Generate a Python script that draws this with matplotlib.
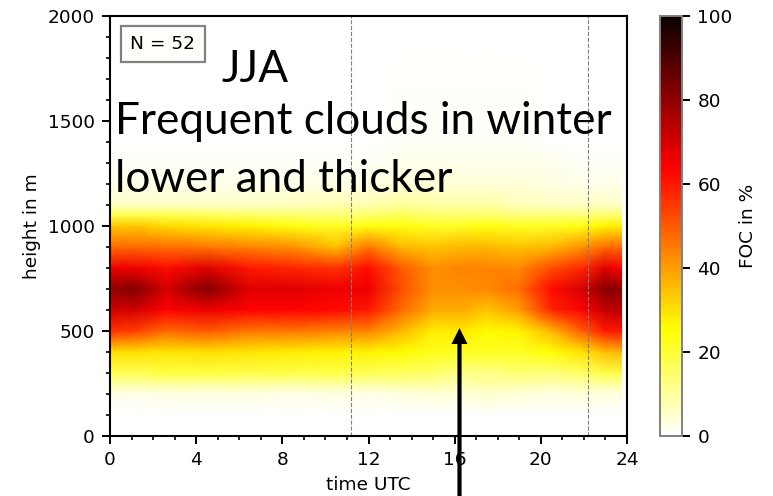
import matplotlib
matplotlib.use('Agg')
import matplotlib.pyplot as plt
from matplotlib.patches import FancyArrowPatch
import numpy as np

hours = [0, 0.25, 1.2, 2.6, 4.5, 6.5, 8.5, 10.5, 12, 13.5, 15, 16.25, 17.5, 19, 20.5, 22, 23, 23.75]
heights = [0, 100, 200, 250, 300, 400, 500, 600, 700, 800, 900, 1000, 1050, 1100, 1200, 1300, 1400, 2000]

# FOC in %, one row per height
foc_0 = [0, 0, 0, 0, 0, 0, 0, 0, 0, 0, 0, 0, 0, 0, 0, 0, 0, 0]
foc_100 = [0, 0, 0, 0, 0, 0, 0, 0, 0, 0, 0, 0, 0, 0, 0, 0, 0, 0]
foc_200 = [2, 2, 2, 3, 3, 3, 2, 3, 2, 3, 4, 4, 5, 4, 3, 4, 3, 3]
foc_250 = [9, 9, 9, 10, 10, 10, 9, 10, 9, 10, 10, 8, 9, 9, 8, 9, 10, 10]
foc_300 = [17, 17, 17, 19, 19, 18, 18, 18, 17, 16, 15, 12, 12, 14, 13, 16, 18, 18]
foc_400 = [30, 30, 30, 29, 30, 29, 28, 27, 27, 26, 23, 22, 22, 22, 25, 30, 35, 36]
foc_500 = [56, 56, 54, 48, 50, 46, 46, 44, 44, 36, 28, 29, 26, 27, 36, 50, 60, 60]
foc_600 = [70, 70, 70, 63, 66, 63, 63, 62, 60, 48, 38, 38, 34, 40, 58, 64, 72, 74]
foc_700 = [80, 80, 82, 70, 82, 68, 68, 66, 66, 52, 42, 42, 43, 47, 62, 70, 82, 80]
foc_800 = [66, 66, 66, 62, 68, 60, 58, 56, 62, 50, 42, 44, 44, 43, 52, 58, 68, 64]
foc_900 = [48, 48, 48, 47, 46, 44, 42, 35, 46, 36, 34, 36, 36, 34, 36, 42, 48, 48]
foc_1000 = [34, 34, 34, 31, 29, 27, 24, 22, 24, 24, 22, 22, 24, 22, 22, 24, 27, 28]
foc_1050 = [18, 18, 18, 18, 17, 16, 15, 14, 15, 17, 15, 15, 15, 14, 14, 14, 15, 15]
foc_1100 = [6, 6, 6, 6, 6, 6, 7, 8, 8, 10, 9, 9, 9, 7, 6, 6, 6, 6]
foc_1200 = [2, 2, 2, 2, 2, 2, 2, 3, 3, 4, 4, 4, 4, 4, 3, 2, 2, 2]
foc_1300 = [1, 1, 1, 1, 1, 1, 1, 1, 1, 2, 2, 2, 2, 2, 2, 1, 1, 1]
foc_1400 = [0, 0, 0, 0, 0, 0, 0, 0, 0, 1, 1, 1, 1, 1, 0, 0, 0, 0]
foc_2000 = [0, 0, 0, 0, 0, 0, 0, 0, 0, 0, 0, 0, 0, 0, 0, 0, 0, 0]

dashed_hours = [11.19, 22.19]

foc = np.array([foc_0, foc_100, foc_200, foc_250, foc_300, foc_400, foc_500, foc_600, foc_700,
                foc_800, foc_900, foc_1000, foc_1050, foc_1100, foc_1200, foc_1300, foc_1400, foc_2000])

W, H = 773, 496
fig = plt.figure(figsize=(W / 100, H / 100), dpi=100)
ax = fig.add_axes([110 / W, 1 - 436 / H, 517 / W, 420 / H])
cax = fig.add_axes([660 / W, 1 - 436 / H, 22 / W, 420 / H])

mesh = ax.pcolormesh(hours, heights, foc, shading='gouraud', cmap='hot_r', vmin=0, vmax=100)
ax.set_xlim(0, 24)
ax.set_ylim(0, 2000)
ax.set_facecolor('#fffffc')
ax.set_xticks([0, 4, 8, 12, 16, 20, 24])
ax.set_xticks(np.arange(0, 25, 1), minor=True)
ax.set_yticks([0, 500, 1000, 1500, 2000])
ax.set_yticks(np.arange(0, 2001, 100), minor=True)
ax.tick_params(labelsize=13.3, width=1.4, length=6, pad=5)
ax.tick_params(which='minor', width=1.2, length=3)
ax.set_xlabel('time UTC', fontsize=13.3, labelpad=5)
ax.set_ylabel('height in m', fontsize=13.3, labelpad=5)
for spine in ax.spines.values():
    spine.set_linewidth(1.5)

for h in dashed_hours:
    ax.axvline(h, color='gray', linestyle='--', linewidth=0.8)

fig.text(163 / W, 1 - 44 / H, 'N = 52', fontsize=13.3, ha='center', va='center',
         bbox=dict(boxstyle='square,pad=0.5', facecolor='#fffffc', edgecolor='gray', linewidth=1.6))

cbar = fig.colorbar(mesh, cax=cax)
cbar.set_ticks([0, 20, 40, 60, 80, 100])
cbar.ax.tick_params(labelsize=13.3, width=1.4, length=6, pad=5)
cbar.set_label('FOC in %', fontsize=13.3, labelpad=5)
cbar.outline.set_edgecolor('gray')
cbar.outline.set_linewidth(1.4)

# overlaid slide annotations
fig.text(255 / W, 1 - 69 / H, 'JJA', fontsize=31.8, family='Lato', ha='center', va='center')
fig.text(115 / W, 1 - 121 / H, 'Frequent clouds in winter', fontsize=31.8, family='Lato', va='center')
fig.text(115 / W, 1 - 180 / H, 'lower and thicker', fontsize=31.8, family='Lato', va='center')
fig.add_artist(FancyArrowPatch((459.5 / W, -0.01), (459.5 / W, 1 - 328 / H), transform=fig.transFigure,
                               arrowstyle='simple,head_length=11.5,head_width=11.5,tail_width=3',
                               mutation_scale=1, linewidth=0, color='black', shrinkA=0, shrinkB=0))

fig.savefig('out.png', dpi=100)
